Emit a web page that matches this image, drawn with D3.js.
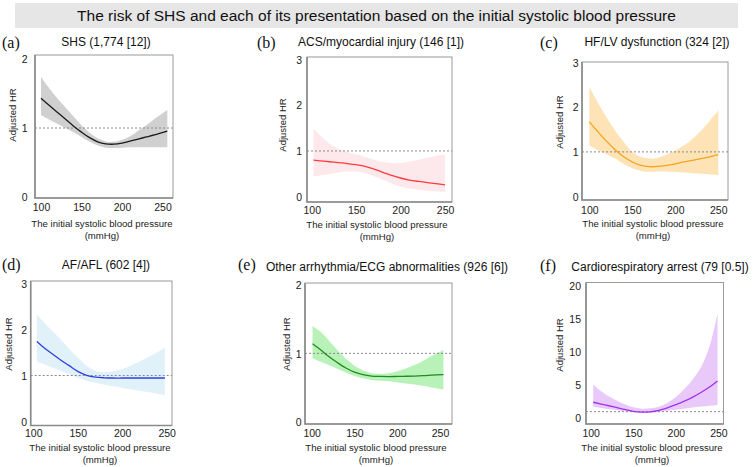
<!DOCTYPE html>
<html><head><meta charset="utf-8">
<script src="https://cdn.jsdelivr.net/npm/d3@7"></script>
<style>body{margin:0;background:#fff}svg{display:block}</style>
</head><body>
<svg id="c" width="753" height="467"></svg>
<script>
// ---------- data ----------
const chartTitle = "The risk of SHS and each of its presentation based on the initial systolic blood pressure";
const panelLabels = ["(a)", "(b)", "(c)", "(d)", "(e)", "(f)"];
const panelTitles = ["SHS (1,774 [12])", "ACS/myocardial injury (146 [1])", "HF/LV dysfunction (324 [2])",
  "AF/AFL (602 [4])", "Other arrhythmia/ECG abnormalities (926 [6])", "Cardiorespiratory arrest (79 [0.5])"];
const xTicks = [100, 150, 200, 250];
const yTicksA = [0, 1, 2], yTicksB = [0, 1, 2, 3], yTicksF = [0, 5, 10, 15, 20];

// (a) SHS
const sbpA = [100,110,120,130,140,150,160,170,180,190,200,210,220,230,240,256];
const hrA  = [1.43,1.33,1.23,1.13,1.03,0.94,0.86,0.80,0.77,0.765,0.78,0.81,0.84,0.87,0.90,0.955];
const loA  = [1.19,1.125,1.06,1.0,0.94,0.87,0.80,0.745,0.715,0.71,0.715,0.72,0.72,0.72,0.72,0.72];
const hiA  = [1.74,1.58,1.43,1.30,1.17,1.04,0.93,0.85,0.805,0.80,0.83,0.88,0.96,1.04,1.13,1.26];
// (b) ACS/myocardial injury
const sbpB = [102,110,120,130,140,150,160,170,180,190,200,210,220,230,240,250];
const hrB  = [0.80,0.785,0.765,0.745,0.725,0.70,0.665,0.605,0.535,0.465,0.41,0.365,0.335,0.31,0.285,0.26];
const loB  = [0.44,0.47,0.50,0.53,0.55,0.55,0.52,0.45,0.37,0.29,0.22,0.18,0.155,0.13,0.115,0.10];
const hiB  = [1.49,1.33,1.16,1.05,0.98,0.93,0.87,0.81,0.76,0.735,0.735,0.77,0.81,0.85,0.89,0.93];
// (c) HF/LV dysfunction
const sbpC = [100,110,120,130,140,150,160,170,180,190,200,210,220,230,240,250];
const hrC  = [1.67,1.45,1.24,1.05,0.89,0.775,0.70,0.67,0.675,0.70,0.735,0.775,0.81,0.85,0.89,0.94];
const loC  = [1.15,1.04,0.95,0.85,0.73,0.635,0.575,0.555,0.56,0.56,0.55,0.54,0.525,0.51,0.495,0.48];
const hiC  = [2.45,2.10,1.77,1.48,1.22,1.0,0.89,0.85,0.87,0.94,1.03,1.14,1.29,1.47,1.69,1.93];
// (d) AF/AFL
const sbpD = [104,110,120,130,140,150,160,170,180,190,200,210,220,230,240,248];
const hrD  = [1.74,1.64,1.49,1.35,1.22,1.09,1.005,0.965,0.95,0.945,0.945,0.945,0.945,0.945,0.945,0.945];
const loD  = [1.30,1.26,1.18,1.11,1.03,0.95,0.885,0.84,0.80,0.765,0.73,0.70,0.67,0.635,0.60,0.57];
const hiD  = [2.33,2.20,2.00,1.80,1.59,1.39,1.21,1.10,1.07,1.09,1.14,1.22,1.31,1.41,1.51,1.61];
// (e) Other arrhythmia/ECG abnormalities
const sbpE = [101,110,120,130,140,150,160,170,180,190,200,210,220,230,240,254];
const hrE  = [1.14,1.055,0.955,0.865,0.785,0.725,0.688,0.668,0.662,0.66,0.662,0.665,0.668,0.673,0.68,0.69];
const loE  = [0.93,0.88,0.83,0.775,0.72,0.67,0.635,0.61,0.60,0.59,0.575,0.56,0.545,0.525,0.50,0.47];
const hiE  = [1.40,1.32,1.19,1.05,0.92,0.82,0.75,0.71,0.70,0.71,0.74,0.78,0.83,0.89,0.96,1.05];
// (f) Cardiorespiratory arrest
const sbpF = [103,110,120,130,140,150,160,170,180,190,200,210,220,230,240,249];
const hrF  = [2.42,2.2,1.93,1.64,1.33,1.06,0.93,0.98,1.20,1.58,2.05,2.58,3.20,3.93,4.75,5.63];
const loF  = [1.75,1.6,1.42,1.24,1.05,0.90,0.84,0.88,0.98,1.13,1.30,1.45,1.62,1.77,1.89,2.0];
const hiF  = [5.1,4.3,3.4,2.72,2.1,1.65,1.45,1.5,1.75,2.3,3.2,4.4,5.9,7.8,11.0,15.8];

// ---------- layout / styles ----------
const panels = [
  {x:sbpA,y:hrA,lo:loA,hi:hiA,yt:yTicksA, box:[35,55,173,198], xd:[92.6,263], yd:[-0.0145,2.058],
   line:"#1a1a1a", band:"#d0d0d0", lab:[2,48], tt:[106,46], yl:[13,115], ytx:27.5, xty:211, at:[102,227]},
  {x:sbpB,y:hrB,lo:loB,hi:hiB,yt:yTicksB, box:[307,57,452,202], xd:[94.7,257.8], yd:[-0.114,3.052],
   line:"#ff3b3b", band:"#fde8eb", lab:[257,48], tt:[381,46], yl:[283,125], ytx:302, xty:214, at:[377,228]},
  {x:sbpC,y:hrC,lo:loC,hi:hiC,yt:yTicksB, box:[582,62,728,200], xd:[91.5,261.3], yd:[-0.074,3.007],
   line:"#f5a41e", band:"#fde3b5", lab:[540,48], tt:[657,46], yl:[560,122], ytx:578.5, xty:214, at:[653,227]},
  {x:sbpD,y:hrD,lo:loD,hi:hiD,yt:yTicksB, box:[30.7,281,172,425.5], xd:[97.1,256], yd:[-0.09,3.06],
   line:"#2f3fdc", band:"#e1f1fa", lab:[2,270], tt:[106,269], yl:[9,344], ytx:27, xty:437, at:[100,451]},
  {x:sbpE,y:hrE,lo:loE,hi:hiE,yt:yTicksA, box:[305,283,452,424], xd:[92.2,264], yd:[-0.034,2.03],
   line:"#1e8c1e", band:"#b8f2b8", lab:[238,270], tt:[387,271], yl:[287,344], ytx:301.5, xty:437, at:[376,451]},
  {x:sbpF,y:hrF,lo:loF,hi:hiF,yt:yTicksF, box:[586,282.5,723.5,424], xd:[94.5,256], yd:[-0.86,20.48],
   line:"#a033ee", band:"#e8c9fa", lab:[540,271], tt:[660,271], yl:[560,345], ytx:581, xty:437, at:[652,451]}
];

const svg = d3.select("#c");
const sans = "'Liberation Sans', Arial, sans-serif";
const serif = "'Liberation Serif', 'Times New Roman', serif";

// title band
svg.append("rect").attr("x",15).attr("y",3).attr("width",723).attr("height",25).attr("fill","#e6e6e6");
svg.append("text").attr("x",376.5).attr("y",21).attr("text-anchor","middle")
  .attr("font-family",sans).attr("font-size",15.5).attr("fill","#111").text(chartTitle);

panels.forEach((p,i)=>{
  const [l,t,r,b] = p.box;
  const xs = d3.scaleLinear().domain(p.xd).range([l,r]);
  const ys = d3.scaleLinear().domain(p.yd).range([b,t]);
  const g = svg.append("g");
  const idx = d3.range(p.x.length);
  const cv = d3.curveCatmullRom.alpha(0.5);

  g.append("path").datum(idx).attr("fill",p.band)
    .attr("d", d3.area().curve(cv).x(k=>xs(p.x[k])).y0(k=>ys(p.lo[k])).y1(k=>ys(p.hi[k])));
  g.append("line").attr("x1",l).attr("x2",r).attr("y1",ys(1)).attr("y2",ys(1))
    .attr("stroke","#8a8a8a").attr("stroke-width",1).attr("stroke-dasharray","2,2");
  g.append("path").datum(idx).attr("fill","none").attr("stroke",p.line).attr("stroke-width",1.3)
    .attr("d", d3.line().curve(cv).x(k=>xs(p.x[k])).y(k=>ys(p.y[k])));

  // frame
  g.append("rect").attr("x",l).attr("y",t).attr("width",r-l).attr("height",b-t)
    .attr("fill","none").attr("stroke","#9a9a9a").attr("stroke-width",1);
  g.append("path").attr("d",`M${l},${t}V${b}H${r}`).attr("fill","none").attr("stroke","#8a8a8a").attr("stroke-width",1.6);

  // x axis labels
  const xa = d3.axisBottom(xs).tickValues(xTicks).tickSize(0).tickPadding(0).tickFormat(d3.format("d"));
  const xg = g.append("g").attr("transform",`translate(0,${p.xty})`).call(xa);
  xg.select(".domain").remove();
  xg.selectAll("text").attr("dy",0).attr("font-family",sans).attr("font-size",10.5).attr("fill","#222");
  // y axis labels
  const ya = d3.axisLeft(ys).tickValues(p.yt).tickSize(0).tickPadding(0).tickFormat(d3.format("d"));
  const yg = g.append("g").attr("transform",`translate(${p.ytx},0)`).call(ya);
  yg.select(".domain").remove();
  yg.selectAll("text").attr("dy","0.35em").attr("font-family",sans).attr("font-size",10.5).attr("fill","#222");

  // texts
  g.append("text").attr("x",p.lab[0]).attr("y",p.lab[1]).attr("font-family",serif).attr("font-size",16)
    .attr("fill","#111").text(panelLabels[i]);
  g.append("text").attr("x",p.tt[0]).attr("y",p.tt[1]).attr("text-anchor","middle").attr("font-family",sans)
    .attr("font-size",12).attr("fill","#111").text(panelTitles[i]);
  g.append("text").attr("transform",`translate(${p.yl[0]},${p.yl[1]}) rotate(-90)`).attr("text-anchor","middle")
    .attr("dy","0.35em").attr("font-family",sans).attr("font-size",9.5).attr("fill","#222").text("Adjusted HR");
  g.append("text").attr("x",p.at[0]).attr("y",p.at[1]).attr("text-anchor","middle").attr("font-family",sans)
    .attr("font-size",9.6).attr("fill","#222").text("The initial systolic blood pressure");
  g.append("text").attr("x",p.at[0]).attr("y",p.at[1]+12).attr("text-anchor","middle").attr("font-family",sans)
    .attr("font-size",9.6).attr("fill","#222").text("(mmHg)");
});
</script>
</body></html>
